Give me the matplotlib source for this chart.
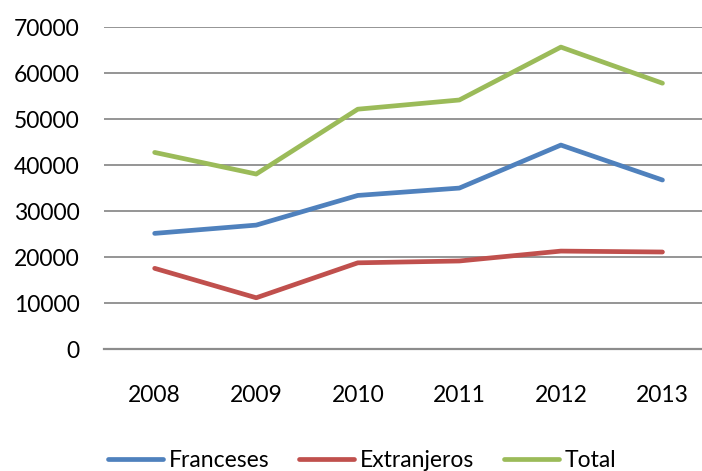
import matplotlib
matplotlib.use("Agg")
from matplotlib import pyplot as plt

years = ["2008", "2009", "2010", "2011", "2012", "2013"]
franceses = [25200, 27000, 33450, 35050, 44400, 36800]
extranjeros = [17600, 11200, 18800, 19200, 21350, 21150]
total = [42800, 38100, 52200, 54200, 65700, 57850]

colors = ["#4F81BD", "#C0504D", "#9BBB59"]

plt.rcParams['font.family'] = ['Lato', 'DejaVu Sans']
fs = 16.5

fig = plt.figure(figsize=(7.02, 4.71), dpi=100)
ax = fig.add_axes([0.148, 0.2584, 0.868, 0.6836])

x = list(range(len(years)))
for vals, c, name in zip([franceses, extranjeros, total], colors,
                         ["Franceses", "Extranjeros", "Total"]):
    ax.plot(x, vals, color=c, lw=3.4, solid_capstyle='round',
            solid_joinstyle='round', label=name, zorder=3)

ax.set_xlim(-0.5, 5.5)
ax.set_ylim(0, 70000)
ax.set_yticks(range(0, 70001, 10000))
ax.set_xticks(x)
ax.set_xticklabels(years)
ax.grid(True, axis='y', color='#8c8c8c', lw=1.3)
ax.set_axisbelow(True)
for s in ['top', 'right', 'left']:
    ax.spines[s].set_visible(False)
ax.spines['bottom'].set_color('#8c8c8c')
ax.spines['bottom'].set_linewidth(1.6)
ax.tick_params(axis='y', length=0, pad=17.5, labelsize=fs)
ax.tick_params(axis='x', length=0, pad=26, labelsize=fs)

fig.legend(loc='center', bbox_to_anchor=(0.516, 0.023), ncol=3, frameon=False,
           fontsize=fs, handlelength=2.4, handletextpad=0.25,
           columnspacing=1.3)

plt.savefig('out.png', dpi=100)
